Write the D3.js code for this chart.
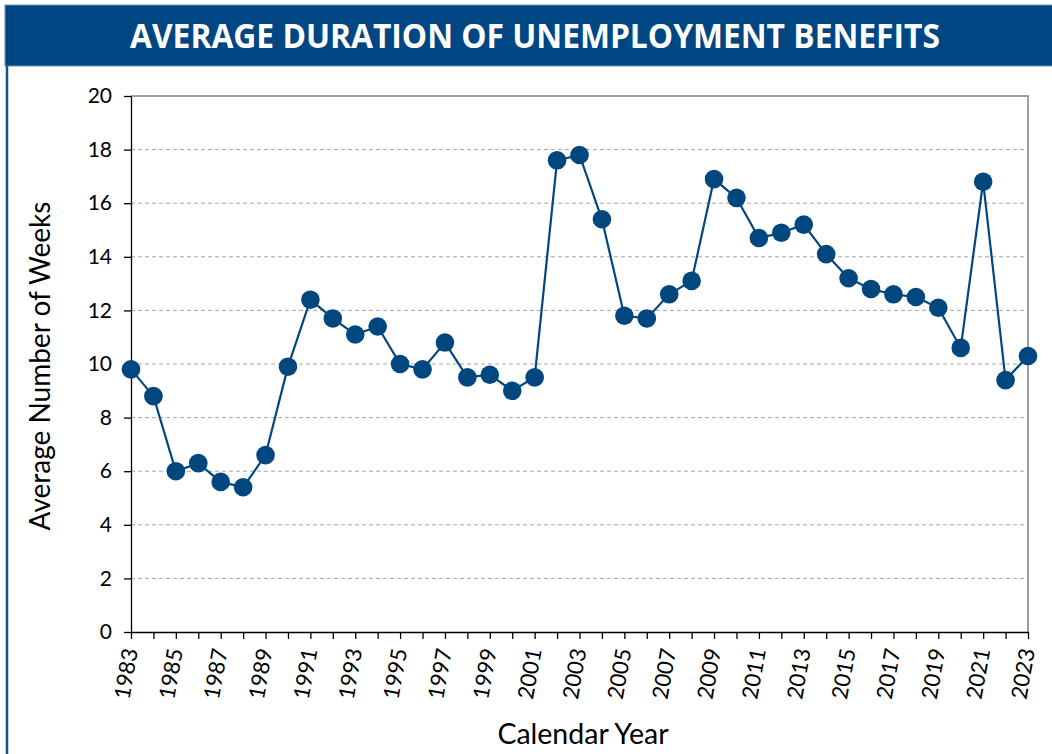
<!DOCTYPE html>
<html>
<head>
<meta charset="utf-8">
<script src="https://cdn.jsdelivr.net/npm/d3@7"></script>
<style>
  body { margin: 0; background: #fff; }
  svg text { font-family: Lato, "Open Sans", sans-serif; }
</style>
</head>
<body>
<div id="vis"></div>
<script>
// chart data
const years = d3.range(1983, 2024);
const weeks = [9.8, 8.8, 6.0, 6.3, 5.6, 5.4, 6.6, 9.9, 12.4, 11.7,
               11.1, 11.4, 10.0, 9.8, 10.8, 9.5, 9.6, 9.0, 9.5, 17.6,
               17.8, 15.4, 11.8, 11.7, 12.6, 13.1, 16.9, 16.2, 14.7, 14.9,
               15.2, 14.1, 13.2, 12.8, 12.6, 12.5, 12.1, 10.6, 16.8, 9.4, 10.3];
const yTicks = [0, 2, 4, 6, 8, 10, 12, 14, 16, 18, 20];
const xLabels = d3.range(1983, 2024, 2);

const W = 1052, H = 754;
const blue = '#00467f';

let svg = d3.select('#vis').append('svg')
  .attr('width', W)
  .attr('height', H);

// header band
svg.append('rect')
  .attr('x', 5).attr('y', 5)
  .attr('width', W).attr('height', 61)
  .attr('fill', '#004682')
  .attr('stroke', '#6f93ba').attr('stroke-width', 1);

svg.append('text')
  .attr('x', 535).attr('y', 48)
  .attr('text-anchor', 'middle')
  .attr('fill', '#fff')
  .attr('font-size', 34)
  .attr('font-weight', 'bold')
  .attr('textLength', 810)
  .attr('lengthAdjust', 'spacingAndGlyphs')
  .style('font-family', '"Open Sans", sans-serif')
  .text('AVERAGE DURATION OF UNEMPLOYMENT BENEFITS');

// left frame line
svg.append('line')
  .attr('x1', 7).attr('x2', 7)
  .attr('y1', 66).attr('y2', H)
  .attr('stroke', '#1b4f8a').attr('stroke-width', 2.5);

// scales
let x = d3.scaleLinear().domain([1983, 2023]).range([131, 1028]);
let y = d3.scaleLinear().domain([0, 20]).range([632, 96]);

// gridlines
svg.append('g')
  .selectAll('line')
  .data(yTicks.filter(d => d > 0 && d < 20))
  .join('line')
  .attr('x1', x(1983)).attr('x2', x(2023))
  .attr('y1', d => y(d)).attr('y2', d => y(d))
  .attr('stroke', '#a6a6a6')
  .attr('stroke-width', 1)
  .attr('stroke-dasharray', '4,3');

// top and right border of plot
svg.append('path')
  .attr('d', `M${x(1983)},${y(20)}H${x(2023)}V${y(0)}`)
  .attr('fill', 'none')
  .attr('stroke', '#808080')
  .attr('stroke-width', 1.5);

// y axis
let yAxis = svg.append('g')
  .attr('transform', `translate(${x(1983)},0)`)
  .call(d3.axisLeft(y).tickValues(yTicks).tickSize(7).tickPadding(12).tickSizeOuter(0));
yAxis.select('.domain').attr('stroke', '#000').attr('stroke-width', 1.3);
yAxis.selectAll('.tick line').attr('stroke', '#000').attr('stroke-width', 1.3);
yAxis.selectAll('text')
  .attr('font-size', 21)
  .attr('fill', '#000')
  .style('font-family', 'Lato, sans-serif');

// x axis
let xAxis = svg.append('g')
  .attr('transform', `translate(0,${y(0)})`)
  .call(d3.axisBottom(x).tickValues(years).tickSize(7).tickSizeOuter(0).tickFormat(''));
xAxis.select('.domain').attr('stroke', '#000').attr('stroke-width', 1.3);
xAxis.selectAll('.tick line').attr('stroke', '#000').attr('stroke-width', 1.3);

svg.append('g')
  .selectAll('text')
  .data(xLabels)
  .join('text')
  .attr('transform', d => `translate(${x(d) + 7},${y(0) + 18}) rotate(-80)`)
  .attr('text-anchor', 'end')
  .attr('font-size', 22)
  .attr('fill', '#000')
  .text(d => d);

// axis titles
svg.append('text')
  .attr('transform', 'translate(50,366) rotate(-90)')
  .attr('text-anchor', 'middle')
  .attr('font-size', 28)
  .attr('fill', '#000')
  .text('Average Number of Weeks');

svg.append('text')
  .attr('x', 583).attr('y', 744)
  .attr('text-anchor', 'middle')
  .attr('font-size', 28.5)
  .attr('fill', '#000')
  .text('Calendar Year');

// series line and markers
let line = d3.line()
  .x((d, i) => x(years[i]))
  .y(d => y(d));

svg.append('path')
  .datum(weeks)
  .attr('d', line)
  .attr('fill', 'none')
  .attr('stroke', blue)
  .attr('stroke-width', 2.2);

svg.append('g')
  .selectAll('circle')
  .data(weeks)
  .join('circle')
  .attr('cx', (d, i) => x(years[i]))
  .attr('cy', d => y(d))
  .attr('r', 9.3)
  .attr('fill', blue);
</script>
</body>
</html>
